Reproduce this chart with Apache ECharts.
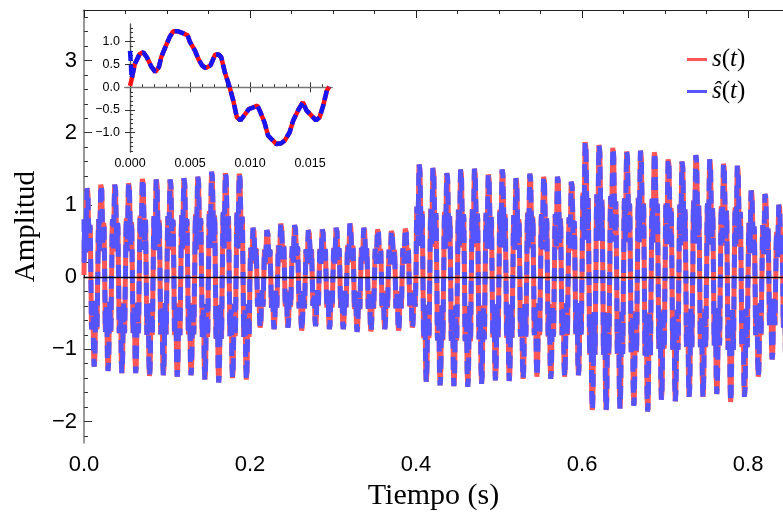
<!DOCTYPE html>
<html><head><meta charset="utf-8">
<script src="https://cdn.jsdelivr.net/npm/echarts@6/dist/echarts.min.js"></script>
<style>html,body{margin:0;padding:0;background:#fff}#c{width:783px;height:516px}</style>
</head><body><div id="c"></div><script>
// One period (60 Hz) of the waveform
const period = 1 / 60;
const insetT = [0, 0.00014, 0.0004, 0.0008, 0.0011, 0.0014, 0.0018, 0.0021, 0.0024, 0.0026,
  0.0030, 0.0033, 0.0036, 0.0040, 0.0044, 0.0048, 0.0050, 0.0054, 0.0057, 0.0060,
  0.0063, 0.0067, 0.0071, 0.0074, 0.0076, 0.0079, 0.0083, 0.0086, 0.0089, 0.0092,
  0.0094, 0.0099, 0.0103, 0.0106, 0.0108, 0.0112, 0.0115, 0.0119, 0.0122, 0.0126,
  0.0129, 0.0133, 0.0136, 0.0140, 0.0144, 0.0147, 0.0151, 0.0155, 0.0158, 0.0161,
  0.0164, 0.0166];
const insetV = [0.03, 0.18, 0.51, 0.73, 0.77, 0.66, 0.44, 0.34, 0.44, 0.66,
  0.92, 1.10, 1.23, 1.23, 1.19, 1.14, 0.99, 0.81, 0.62, 0.48,
  0.42, 0.48, 0.72, 0.72, 0.66, 0.33, 0.0, -0.29, -0.66, -0.73,
  -0.66, -0.48, -0.44, -0.40, -0.51, -0.77, -1.06, -1.17, -1.25, -1.23,
  -1.17, -0.99, -0.73, -0.51, -0.33, -0.51, -0.62, -0.73, -0.66, -0.40,
  -0.07, 0.01];
// start of the estimate ŝ differs (initial transient)
const hatStartV = [0.80, 0.20];
// per-cycle maximum and minimum
const cyclePeaks = [
  1.23, 1.28, 1.28, 1.30, 1.36, 1.35, 1.35, 1.37, 1.39, 1.46, 1.44, 1.43,
  0.68, 0.65, 0.74, 0.72, 0.65, 0.66, 0.68, 0.74, 0.68, 0.66, 0.64, 0.67,
  1.56, 1.51, 1.44, 1.49, 1.50, 1.42, 1.49, 1.37, 1.43, 1.39, 1.39, 1.32,
  1.87, 1.83, 1.79, 1.74, 1.75, 1.73, 1.63, 1.60, 1.69, 1.63, 1.57, 1.54, 1.20, 1.15, 1.00];
const cycleTroughs = [
  -1.24, -1.30, -1.33, -1.33, -1.37, -1.36, -1.38, -1.36, -1.42, -1.46, -1.40, -1.42,
  -0.70, -0.72, -0.70, -0.74, -0.68, -0.72, -0.72, -0.76, -0.75, -0.72, -0.74, -0.70,
  -1.45, -1.50, -1.51, -1.52, -1.48, -1.43, -1.44, -1.41, -1.38, -1.41, -1.38, -1.36,
  -1.84, -1.84, -1.82, -1.78, -1.86, -1.70, -1.72, -1.66, -1.66, -1.62, -1.73, -1.66, -1.38, -1.14, -1.20];
const mainXTicks = [0, 0.2, 0.4, 0.6, 0.8];
const mainYTicks = [-2, -1, 0, 1, 2, 3];
const insetXTicks = [0, 0.005, 0.010, 0.015];
const insetYTicks = [-1.0, -0.5, 0, 0.5, 1.0];

const tplMax = Math.max(...insetV), tplMin = -Math.min(...insetV);
const sMain = [], hatMain = [];
cyclePeaks.forEach((pk, k) => {
  const tr = -cycleTroughs[k];
  insetT.forEach((t, i) => {
    const v = insetV[i] >= 0 ? insetV[i] * pk / tplMax : insetV[i] * tr / tplMin;
    const x = k * period + t;
    sMain.push([x, v]);
    let hv = v;
    if (k === 0 && i < hatStartV.length) hv = hatStartV[i] * pk / tplMax;
    hatMain.push([x, hv]);
  });
});
const sInset = insetT.map((t, i) => [t, insetV[i]]);
const hatInset = insetT.map((t, i) => [t, i < hatStartV.length ? hatStartV[i] : insetV[i]]);

function range(a, b, step, exclude) {
  const out = [];
  for (let v = a; v <= b + 1e-9; v += step) {
    const r = Math.round(v * 1e6) / 1e6;
    if (!exclude.some(e => Math.abs(e - r) < 1e-9)) out.push(r);
  }
  return out;
}
const minus = s => s.replace('-', '\u2212');
const XMAX = 0.842, YMIN = -2.3, YMAX = 3.7;
const IXMIN = -0.00042, IXMAX = 0.01683, IYMIN = -1.424, IYMAX = 1.39;
const sansLbl = { fontFamily: 'Liberation Sans', color: '#000' };
const frame = { show: true, lineStyle: { color: '#555', width: 1.2 } };

const chart = echarts.init(document.getElementById('c'));
chart.setOption({
  animation: false,
  backgroundColor: '#fff',
  grid: [
    { left: 84, top: 10, right: 0, bottom: 72 },
    { left: 125, top: 24, width: 207, height: 128, show: true, backgroundColor: '#fff', borderWidth: 0 }
  ],
  xAxis: [
    { type: 'value', gridIndex: 0, min: 0, max: XMAX, position: 'bottom',
      axisLine: { show: true, lineStyle: { color: '#222', width: 1.2 } },
      axisTick: { inside: true, length: 8, customValues: mainXTicks, lineStyle: { color: '#222' } },
      axisLabel: { customValues: mainXTicks, formatter: v => v.toFixed(1), fontSize: 22, margin: 11, ...sansLbl },
      splitLine: { show: false },
      name: 'Tiempo (s)', nameLocation: 'middle', nameGap: 35,
      nameTextStyle: { fontFamily: 'Liberation Serif', fontSize: 30, color: '#000' } },
    { type: 'value', gridIndex: 0, min: 0, max: XMAX, position: 'bottom',
      axisLine: { show: false },
      axisTick: { inside: true, length: 4, customValues: range(0, 0.84, 0.05, mainXTicks), lineStyle: { color: '#222' } },
      axisLabel: { show: false }, splitLine: { show: false } },
    { type: 'value', gridIndex: 0, min: 0, max: XMAX, position: 'top',
      axisLine: { show: true, lineStyle: { color: '#222', width: 1.2 } },
      axisTick: { inside: true, length: 8, customValues: mainXTicks, lineStyle: { color: '#222' } },
      axisLabel: { show: false }, splitLine: { show: false } },
    { type: 'value', gridIndex: 0, min: 0, max: XMAX, position: 'top',
      axisLine: { show: false },
      axisTick: { inside: true, length: 4, customValues: range(0, 0.84, 0.05, mainXTicks), lineStyle: { color: '#222' } },
      axisLabel: { show: false }, splitLine: { show: false } },
    // inset
    { type: 'value', gridIndex: 1, min: IXMIN, max: IXMAX, position: 'bottom',
      axisLine: frame,
      axisTick: { inside: true, length: 5, customValues: insetXTicks, lineStyle: { color: '#333' } },
      axisLabel: { customValues: insetXTicks, formatter: v => v.toFixed(3), fontSize: 12.5, margin: 5, ...sansLbl },
      splitLine: { show: false } },
    { type: 'value', gridIndex: 1, min: IXMIN, max: IXMAX, position: 'bottom',
      axisLine: { show: false },
      axisTick: { inside: true, length: 3, customValues: range(0, 0.016, 0.001, insetXTicks), lineStyle: { color: '#333' } },
      axisLabel: { show: false }, splitLine: { show: false } },
    { type: 'value', gridIndex: 1, min: IXMIN, max: IXMAX, position: 'top',
      axisLine: frame,
      axisTick: { inside: true, length: 5, customValues: insetXTicks, lineStyle: { color: '#333' } },
      axisLabel: { show: false }, splitLine: { show: false } }
  ],
  yAxis: [
    { type: 'value', gridIndex: 0, min: YMIN, max: YMAX, position: 'left',
      axisLine: { show: true, lineStyle: { color: '#777', width: 1.5 } },
      axisTick: { inside: true, length: 8, customValues: mainYTicks, lineStyle: { color: '#333' } },
      axisLabel: { customValues: mainYTicks, formatter: v => minus(String(v)), fontSize: 22, margin: 7, ...sansLbl },
      splitLine: { show: false },
      name: 'Amplitud', nameLocation: 'middle', nameGap: 37,
      nameTextStyle: { fontFamily: 'Liberation Serif', fontSize: 29, color: '#000' } },
    { type: 'value', gridIndex: 0, min: YMIN, max: YMAX, position: 'left',
      axisLine: { show: false },
      axisTick: { inside: true, length: 4, customValues: range(-2.2, 3.6, 0.2, mainYTicks), lineStyle: { color: '#333' } },
      axisLabel: { show: false }, splitLine: { show: false } },
    // inset
    { type: 'value', gridIndex: 1, min: IYMIN, max: IYMAX, position: 'left',
      axisLine: frame,
      axisTick: { inside: true, length: 5, customValues: insetYTicks, lineStyle: { color: '#333' } },
      axisLabel: { customValues: insetYTicks, formatter: v => minus(v.toFixed(1)), fontSize: 12.5, margin: 5, ...sansLbl },
      splitLine: { show: false } },
    { type: 'value', gridIndex: 1, min: IYMIN, max: IYMAX, position: 'left',
      axisLine: { show: false },
      axisTick: { inside: true, length: 3, customValues: range(-1.4, 1.3, 0.1, insetYTicks), lineStyle: { color: '#333' } },
      axisLabel: { show: false }, splitLine: { show: false } },
    { type: 'value', gridIndex: 1, min: IYMIN, max: IYMAX, position: 'right',
      axisLine: frame,
      axisTick: { inside: true, length: 5, customValues: insetYTicks, lineStyle: { color: '#333' } },
      axisLabel: { show: false }, splitLine: { show: false } }
  ],
  legend: {
    data: ['s(t)', 'ŝ(t)'], orient: 'vertical', left: 682, top: 42,
    icon: 'rect', itemWidth: 20, itemHeight: 3, itemGap: 7,
    formatter: n => n === 's(t)' ? '{i|s}({i|t})' : '{i|ŝ}({i|t})',
    textStyle: { fontFamily: 'Liberation Serif', fontSize: 25, color: '#000',
      rich: { i: { fontFamily: 'Liberation Serif', fontStyle: 'italic', fontSize: 25, color: '#000' } } }
  },
  series: [
    { name: 's(t)', type: 'line', xAxisIndex: 0, yAxisIndex: 0, data: sMain, showSymbol: false,
      color: '#ff5555', lineStyle: { color: '#ff5555', width: 5 }, z: 2, silent: true },
    { name: 'ŝ(t)', type: 'line', xAxisIndex: 0, yAxisIndex: 0, data: hatMain, showSymbol: false,
      color: '#5555ff', lineStyle: { color: '#5555ff', width: 5, type: [13, 8] }, z: 3, silent: true,
      markLine: { silent: true, symbol: 'none', label: { show: false },
        lineStyle: { color: '#000', width: 1.3, type: 'solid' }, data: [{ yAxis: 0 }] } },
    { name: 'inset s', type: 'line', xAxisIndex: 4, yAxisIndex: 2, data: sInset, showSymbol: false,
      lineStyle: { color: '#ff1010', width: 4.5 }, z: 5, silent: true,
      markLine: { silent: true, symbol: 'none', label: { show: false },
        lineStyle: { color: '#777', width: 1.3, type: 'solid' }, data: [{ yAxis: 0 }] } },
    { name: 'inset hat', type: 'line', xAxisIndex: 4, yAxisIndex: 2, data: hatInset, showSymbol: false,
      lineStyle: { color: '#1515f5', width: 4.5, type: [10, 4] }, z: 6, silent: true }
  ]
});
</script></body></html>
